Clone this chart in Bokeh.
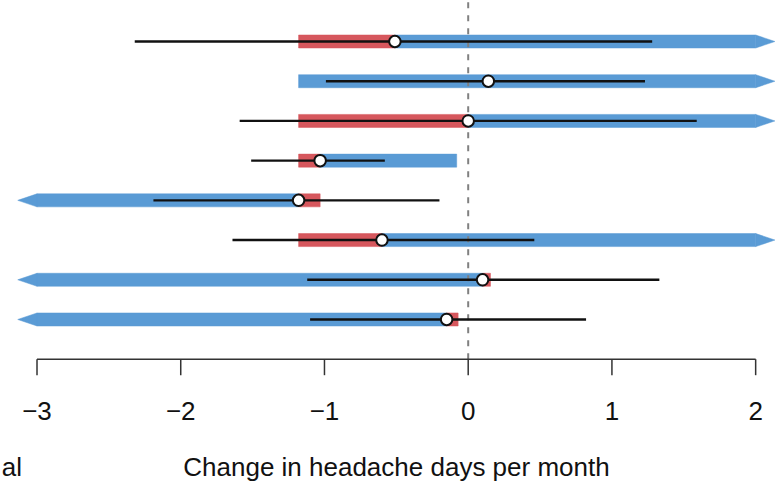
import numpy as np
from bokeh.plotting import figure
from bokeh.models import Range1d
from bokeh.core.properties import value
from bokeh.embed import file_html
from bokeh.resources import INLINE

# ---- data ----
rows = [8, 7, 6, 5, 4, 3, 2, 1]  # top to bottom
estimate = [-0.51, 0.14, 0.00, -1.03, -1.18, -0.60, 0.10, -0.15]
ci_low = [-2.32, -0.99, -1.59, -1.51, -2.19, -1.64, -1.12, -1.10]
ci_high = [1.28, 1.23, 1.59, -0.58, -0.20, 0.46, 1.33, 0.82]
inf = float("inf")
red_low = [-1.18, None, -1.18, -1.18, -1.18, -1.18, 0.10, -0.15]
red_high = [-0.51, None, 0.00, -1.03, -1.03, -0.60, 0.155, -0.07]
blue_low = [-0.51, -1.18, 0.00, -1.03, -inf, -0.60, -inf, -inf]
blue_high = [inf, inf, inf, -0.08, -1.18, inf, 0.10, -0.15]
tick_values = [-3, -2, -1, 0, 1, 2]
tick_labels = ["\u22123", "\u22122", "\u22121", "0", "1", "2"]
axis_min, axis_max = -3, 2
x_title = "Change in headache days per month"
corner_text = "al"

RED = "#D6575D"
BLUE = "#5A9BD5"
FONT = value("Liberation Sans")
FS = value("26px")

W, H = 776, 481
p = figure(width=W, height=H, output_backend="svg", toolbar_location=None,
           x_range=Range1d(-3.254, 2.145), y_range=Range1d(-3.080, 9.0325),
           x_axis_location=None, y_axis_location=None,
           min_border_left=0, min_border_right=0, min_border_top=0,
           min_border_bottom=0)
p.outline_line_color = None
p.grid.visible = False
p.background_fill_color = "white"
p.border_fill_color = "white"

half = 0.164   # half bar thickness (data units)
arrow = 0.134  # arrow head length (data units)
axis_y = 0.0   # baseline of the x axis (data units)
tick_len = 0.403


def draw_bars(lows, highs, color):
    L, R, T, B = [], [], [], []
    px, py = [], []
    for y, lo, hi in zip(rows, lows, highs):
        if lo is None:
            continue
        L.append(max(lo, axis_min)); R.append(min(hi, axis_max))
        T.append(y + half); B.append(y - half)
        if hi > axis_max:
            px.append([axis_max, axis_max + arrow, axis_max])
            py.append([y + half, y, y - half])
        if lo < axis_min:
            px.append([axis_min, axis_min - arrow, axis_min])
            py.append([y + half, y, y - half])
    p.quad(left=L, right=R, top=T, bottom=B, fill_color=color, line_color=color,
           line_width=0.5)
    if px:
        p.patches(px, py, fill_color=color, line_color=color, line_width=0.5)


draw_bars(red_low, red_high, RED)
draw_bars(blue_low, blue_high, BLUE)

# reference line at zero
p.segment(x0=[0], y0=[axis_y], x1=[0], y1=[p.y_range.end],
          line_color="#808080", line_width=2, line_dash="6 7")

# confidence intervals and estimates
p.segment(x0=ci_low, y0=rows, x1=ci_high, y1=rows, line_color="#111111",
          line_width=2.4)
p.scatter(x=estimate, y=rows, size=11.5, fill_color="white", line_color="#111111",
          line_width=2)

# x axis (R style: line only between first and last tick)
p.segment(x0=[axis_min], y0=[axis_y], x1=[axis_max], y1=[axis_y],
          line_color="#333333", line_width=1.5)
p.segment(x0=tick_values, y0=[axis_y] * len(tick_values), x1=tick_values,
          y1=[axis_y - tick_len] * len(tick_values), line_color="#333333",
          line_width=1.5)
p.text(x=tick_values, y=[axis_y] * len(tick_values), text=tick_labels,
       y_offset=52, text_align="center", text_baseline="alphabetic",
       text_font=FONT, text_font_size=FS, text_color="#111111")

p.text(x=[-0.499], y=[axis_y], text=[x_title], y_offset=108,
       text_align="center", text_baseline="alphabetic",
       text_font=FONT, text_font_size=FS, text_color="#111111")
p.text(x=[-3.245], y=[axis_y], text=[corner_text], y_offset=108,
       text_align="left", text_baseline="alphabetic",
       text_font=FONT, text_font_size=FS, text_color="#111111")

open("out.html", "w").write(file_html(p, INLINE))
